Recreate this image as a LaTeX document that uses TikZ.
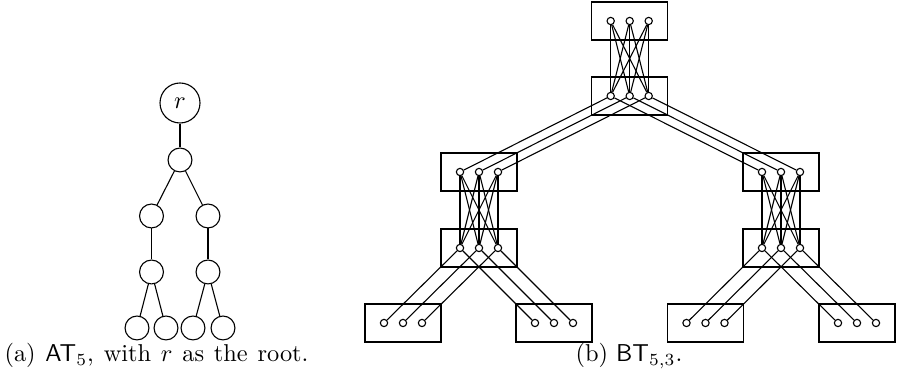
\documentclass[tikz,border=0pt]{standalone}
\begin{document}
\begin{tikzpicture}[x=0.41pt,y=-0.41pt,line width=0.45pt,
  tnode/.style={draw,circle,inner sep=0pt,minimum size=9.8pt},
  rnode/.style={draw,circle,inner sep=0pt,minimum size=16.4pt},
  port/.style={draw,circle,inner sep=0pt,minimum size=3pt},
  blk/.style={draw,rectangle,inner sep=0pt,minimum width=31.16pt,minimum height=15.58pt},
  captext/.style={anchor=base west,inner sep=0pt}]
\useasboundingbox (0,0) rectangle (899,383);
% ---- (a) tree
\node[rnode] (r) at (180,103) {$r$};
\node[tnode] (a1) at (180,160) {};
\node[tnode] (b1) at (151.5,216) {};
\node[tnode] (b2) at (208,216) {};
\node[tnode] (c1) at (151.5,272) {};
\node[tnode] (c2) at (208,272) {};
\node[tnode] (d1) at (137,328) {};
\node[tnode] (d2) at (166,328) {};
\node[tnode] (d3) at (193,328) {};
\node[tnode] (d4) at (223,328) {};
\draw (r) -- (a1);
\draw (a1) -- (b1); \draw (a1) -- (b2);
\draw (b1) -- (c1); \draw (b2) -- (c2);
\draw (c1) -- (d1); \draw (c1) -- (d2);
\draw (c2) -- (d3); \draw (c2) -- (d4);
\node[captext] (capa) at (4,362) {\spaceskip=4.0pt (a) $\mathsf{AT}_5$, with $r$ as the root.};
% ---- (b) blocks
\foreach \n/\x/\y in {T/629.7/21, S/629.7/96, L/479/172, LL/479/248, R/781/172, RR/781/248,
                      B1/403/323, B2/554/323, B3/705.5/323, B4/857/323} {
  \node[blk] (\n) at (\x,\y) {};
  \foreach \i/\d in {1/-19,2/0,3/19}
    \node[port] (\n\i) at ([xshift=\d*0.41pt]\n.center) {};
}
% complete bipartite within pairs
\foreach \a/\b in {T/S, L/LL, R/RR}
  \foreach \i in {1,2,3}
    \foreach \j in {1,2,3}
      \draw (\a\i) -- (\b\j);
% parallel links
\foreach \a/\b in {S/L, S/R, LL/B1, LL/B2, RR/B3, RR/B4}
  \foreach \i in {1,2,3}
    \draw (\a\i) -- (\b\i);
\node[captext] (capb) at (575,362) {(b) $\mathsf{BT}_{5,3}$.};
\end{tikzpicture}
\end{document}
